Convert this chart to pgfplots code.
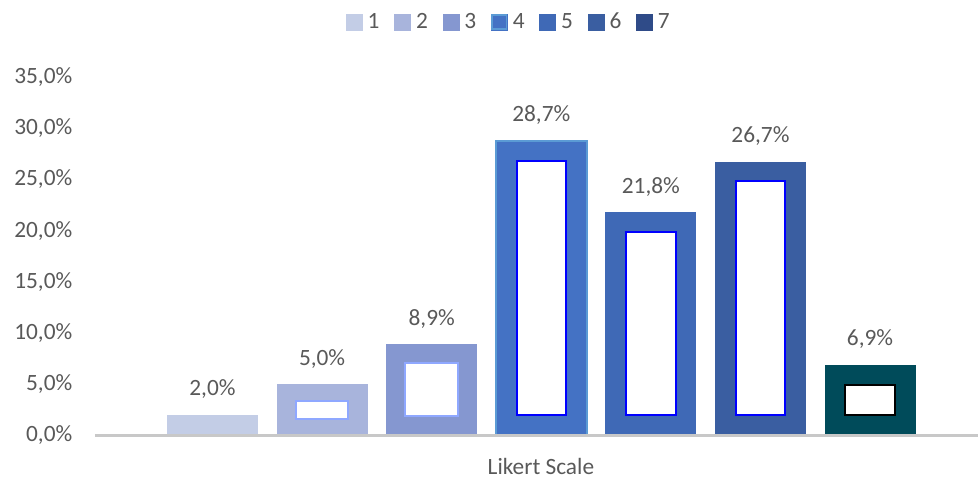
\documentclass[border=0pt]{standalone}
\usepackage{pgfplots}
\pgfplotsset{compat=1.18}
\usepackage{fontspec}
\setmainfont{Carlito}
\definecolor{c1}{HTML}{C3CDE6}
\definecolor{c2}{HTML}{A8B4DC}
\definecolor{c3}{HTML}{8597D0}
\definecolor{c4}{HTML}{4472C4}
\definecolor{c4b}{HTML}{5B9BD5}
\definecolor{c5}{HTML}{3F69B6}
\definecolor{c6}{HTML}{3A5EA1}
\definecolor{c7}{HTML}{004B5A}
\definecolor{c7leg}{HTML}{2F4B88}
\definecolor{txt}{HTML}{595959}
\definecolor{axl}{HTML}{C8C8C8}
\definecolor{inb}{HTML}{0000FF}
\definecolor{in3}{HTML}{8FA8FF}
\newcommand\f{\fontsize{17.5}{21}\selectfont}
\newcommand\sq[1]{\fill[#1] (0pt,-6pt) rectangle (12pt,6pt);}
\pgfplotsset{base/.style={scale only axis, width=662.25pt, height=268.9pt,
  xmin=-0.072, xmax=7.985, ymin=0, ymax=35, bar width=0.83}}
\begin{document}
\begin{tikzpicture}
\begin{axis}[base, ybar, bar shift=0pt, axis on top,
  axis x line*=bottom, axis y line*=left,
  x axis line style={draw=axl, line width=2.25pt},
  y axis line style={draw=none},
  xtick=\empty, ytick={0,5,...,35}, major tick length=0pt,
  scaled y ticks=false,
  /pgf/number format/assume math mode=true,
  yticklabel={\pgfmathprintnumber[fixed,fixed zerofill,precision=1,use comma]{\tick}\%},
  yticklabel style={font=\f, text=txt, xshift=-13.5pt},
  xlabel={Likert Scale},
  xlabel style={at={(axis description cs:0.505,0)}, anchor=base, yshift=-29.6pt, font=\f, text=txt},
  nodes near coords={\pgfmathprintnumber[fixed,fixed zerofill,precision=1,use comma]{\pgfplotspointmeta}\%},
  every node near coord/.append style={font=\f, text=txt, yshift=8.5pt},
  legend style={at={(0.469,1)}, anchor=center, yshift=41.25pt, draw=none, fill=none,
    font=\f, text=txt, legend columns=7,
    /tikz/every odd column/.append style={column sep=2pt},
    /tikz/every even column/.append style={column sep=9pt}},
]
\addlegendimage{legend image code/.code={\sq{c1}}}
\addlegendimage{legend image code/.code={\sq{c2}}}
\addlegendimage{legend image code/.code={\sq{c3}}}
\addlegendimage{legend image code/.code={\sq{c4}\draw[c4b,line width=1.2pt] (0.6pt,-5.4pt) rectangle (11.4pt,5.4pt);}}
\addlegendimage{legend image code/.code={\sq{c5}}}
\addlegendimage{legend image code/.code={\sq{c6}}}
\addlegendimage{legend image code/.code={\sq{c7leg}}}
\addplot[fill=c1, draw=none, forget plot] coordinates {(1,2.0)};
\addplot[fill=c2, draw=none, forget plot] coordinates {(2,5.0)};
\addplot[fill=c3, draw=none, forget plot] coordinates {(3,8.9)};
\addplot[fill=c4, draw=c4b, line width=1.5pt, forget plot] coordinates {(4,28.7)};
\addplot[fill=c5, draw=none, forget plot] coordinates {(5,21.8)};
\addplot[fill=c6, draw=none, forget plot] coordinates {(6,26.7)};
\addplot[fill=c7, draw=none, forget plot] coordinates {(7,6.9)};
\legend{1,2,3,4,5,6,7}
\end{axis}
% inner highlights, bars 2 and 3
\begin{axis}[base, hide axis, ybar stacked]
\addplot[draw=none, fill=none, bar width=0.48] coordinates {(2,1.6) (3,1.9)};
\addplot[draw=in3, fill=white, line width=1.5pt, bar width=0.48] coordinates {(2,1.8) (3,5.2)};
\end{axis}
% inner highlights, bars 4 to 6
\begin{axis}[base, hide axis, ybar stacked]
\addplot[draw=none, fill=none, bar width=0.45] coordinates {(4,1.95) (5,1.95) (6,1.95)};
\addplot[draw=inb, fill=white, line width=1.5pt, bar width=0.45] coordinates {(4,24.85) (5,17.95) (6,22.85)};
\end{axis}
% inner highlight, bar 7
\begin{axis}[base, hide axis, ybar stacked]
\addplot[draw=none, fill=none, bar width=0.46] coordinates {(7,2.0)};
\addplot[draw=black, fill=white, line width=1.5pt, bar width=0.46] coordinates {(7,2.9)};
\end{axis}
\pgfresetboundingbox
\path (-71.25pt,-33.4pt) rectangle (662.25pt,326.6pt);
\end{tikzpicture}
\end{document}
